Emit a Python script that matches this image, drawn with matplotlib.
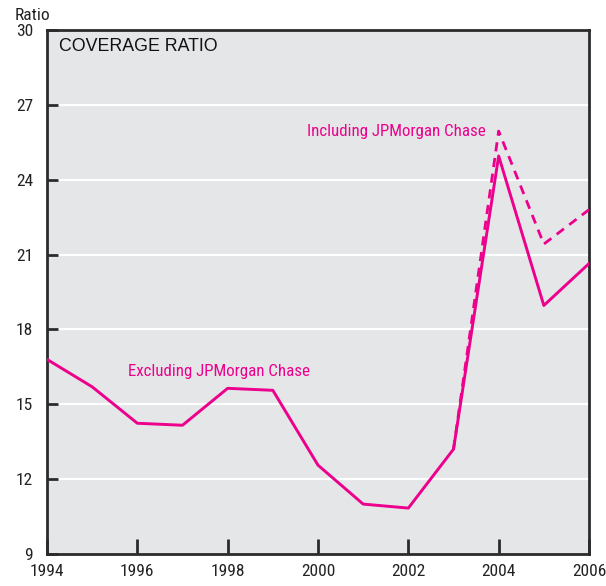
import matplotlib
matplotlib.use("Agg")
from matplotlib import pyplot as plt

# data
years = [1994, 1995, 1996, 1997, 1998, 1999, 2000, 2001, 2002, 2003, 2004, 2005, 2006]
excl = [16.8, 15.7, 14.24, 14.16, 15.64, 15.56, 12.56, 11.0, 10.84, 13.2, 24.95, 18.96, 20.64]
incl_years = [2003, 2004, 2005, 2006]
incl = [13.2, 25.95, 21.42, 22.8]
yticks = [9, 12, 15, 18, 21, 24, 27, 30]
xticks = [1994, 1996, 1998, 2000, 2002, 2004, 2006]

pink = "#EC008C"
dark = "#2b2b2b"
plt.rcParams["font.family"] = ["Roboto Condensed", "DejaVu Sans"]

fig = plt.figure(figsize=(6.06, 5.86), dpi=100)
ax = fig.add_axes([47/606, 1-554/586, 542/606, 524/586])
ax.set_facecolor("#E5E6E8")

for v in yticks[1:-1]:
    ax.axhline(v, color="white", lw=1.6, zorder=1)

ax.plot(incl_years, incl, color=pink, lw=2.0, ls=(0, (3.3, 2.4)), zorder=3)
ax.plot(years, excl, color=pink, lw=2.1, zorder=4)

ax.set_xlim(1994, 2006)
ax.set_ylim(9, 30)
ax.set_xticks(xticks)
ax.set_yticks(yticks)
ax.tick_params(axis="y", direction="in", length=8, width=2, color=dark, labelsize=12.5, pad=10, labelcolor="#222222")
ax.tick_params(axis="x", direction="in", length=11, width=2, color=dark, labelsize=12.5, pad=7, labelcolor="#222222")
for s in ax.spines.values():
    s.set_color(dark)
    s.set_linewidth(2)

ax.text(0.022, 0.985, "COVERAGE RATIO", transform=ax.transAxes, ha="left", va="top",
        fontsize=12.8, family=["Liberation Sans", "DejaVu Sans"], color="#111111")
fig.text(15/606, 1-15/586, "Ratio", ha="left", va="center", fontsize=12.5, color="#222222")
ax.text(2001.73, 25.95, "Including JPMorgan Chase", color=pink, fontsize=12.2, ha="center", va="center")
ax.text(1997.81, 16.33, "Excluding JPMorgan Chase", color=pink, fontsize=12.2, ha="center", va="center")

fig.savefig("out.png", dpi=100)
